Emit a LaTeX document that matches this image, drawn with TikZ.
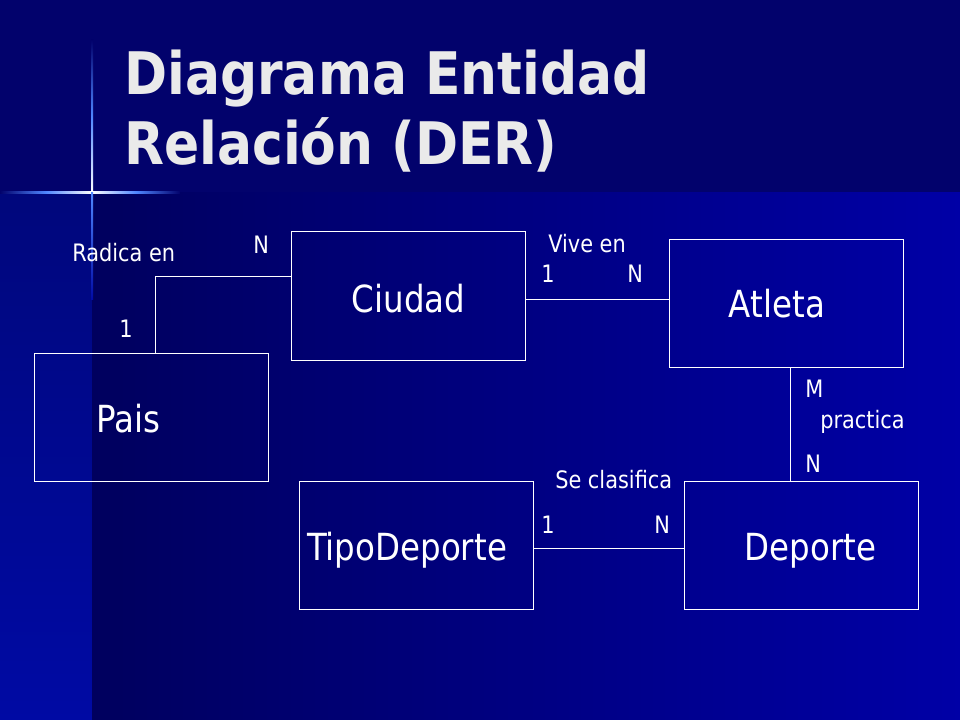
\documentclass[tikz,border=0pt]{standalone}
\usepackage{fontspec}
\setsansfont{DejaVu Sans}[FakeStretch=0.87]
\newfontfamily\titlefont{DejaVu Sans}[FakeStretch=0.885]
\renewcommand{\familydefault}{\sfdefault}
\usetikzlibrary{positioning}

\definecolor{bgtop}{HTML}{02026C}
\definecolor{bgstripa}{HTML}{00077C}
\definecolor{bgstripb}{HTML}{000AA4}
\definecolor{bgleft}{HTML}{00005E}
\definecolor{bgright}{HTML}{0000A6}
\definecolor{glowblue}{HTML}{4F86FF}
\definecolor{titlegray}{HTML}{EAEAEA}

\begin{document}
\begin{tikzpicture}
		[x=0.75pt, y=-0.75pt,
		entity/.style={rectangle, draw=white, line width=0.75pt, minimum width=175.5pt, minimum height=96pt},
		entname/.style={text=white, font=\fontsize{28}{34}\selectfont, text height=20.25pt, text depth=6.75pt, inner sep=0pt},
		link/.style={draw=white, line width=0.75pt},
		card/.style={text=white, font=\fontsize{18}{22}\selectfont, anchor=base west, inner sep=0pt},
		title/.style={text=titlegray, font=\titlefont\fontsize{44}{53}\selectfont\bfseries, anchor=base west, inner sep=0pt}]
		\useasboundingbox (0,0) rectangle (960,720);

		% background
		\fill[bgtop] (0,0) rectangle (960,193);
		\shade[top color=bgstripa, bottom color=bgstripb] (0,193) rectangle (92,720);
		\shade[left color=bgleft, right color=bgright] (92,193) rectangle (960,720);
		\shade[left color=bgtop, right color=white, middle color=glowblue] (0,192) rectangle (92,194);
		\shade[left color=white, right color=bgtop, middle color=glowblue] (92,192) rectangle (180,194);
		\shade[top color=bgtop, bottom color=white, middle color=glowblue] (91,40) rectangle (93,193);
		\shade[top color=glowblue, bottom color=bgstripb] (91,193) rectangle (93,300);

		% title
		\node[title] (title1) at (124,95) {Diagrama Entidad};
		\node[title] (title2) at (124,165) {Relación (DER)};

		% entities
		\node[entity, label={[entname, shift={(0,7)}]center:Ciudad}] (ciudad) at (408.5,296) {};
		\node[entity, label={[entname, shift={(-9,4.5)}]center:Atleta}] (atleta) at (786,303.5) {};
		\node[entity, label={[entname, shift={(-23,6)}]center:Pais}] (pais) at (151,417) {};
		\node[entity, label={[entname, shift={(-9,5.5)}]center:TipoDeporte}] (tipo) at (416,545.5) {};
		\node[entity, label={[entname, shift={(9,5.5)}]center:Deporte}] (deporte) at (801.5,545.5) {};

		% relations
		\draw[link] ([xshift=3pt]pais.north) |- ([yshift=14.25pt]ciudad.west);
		\draw[link] ([yshift=-3pt]ciudad.east) -- ([yshift=-3pt]ciudad.east -| atleta.west);
		\draw[link] ([xshift=3pt]atleta.south) -- ([xshift=3pt]atleta.south |- deporte.north);
		\draw[link] ([yshift=-2.6pt]tipo.east) -- ([yshift=-2.6pt]deporte.west);

		\node[card] (radica) at (72,262) {Radica en};
		\node[card] (radicaN) at (253,254) {N};
		\node[card] (radica1) at (119,337) {1};
		\node[card] (vive) at (548,253) {Vive en};
		\node[card] (vive1) at (541,283) {1};
		\node[card] (viveN) at (627,283) {N};
		\node[card] (practicaM) at (805,397) {M};
		\node[card] (practica) at (820,428) {practica};
		\node[card] (practicaN) at (805,472) {N};
		\node[card] (clasifica) at (555,488) {Se clasifica};
		\node[card] (clasifica1) at (541,533) {1};
		\node[card] (clasificaN) at (654,533) {N};
	\end{tikzpicture}
\end{document}
